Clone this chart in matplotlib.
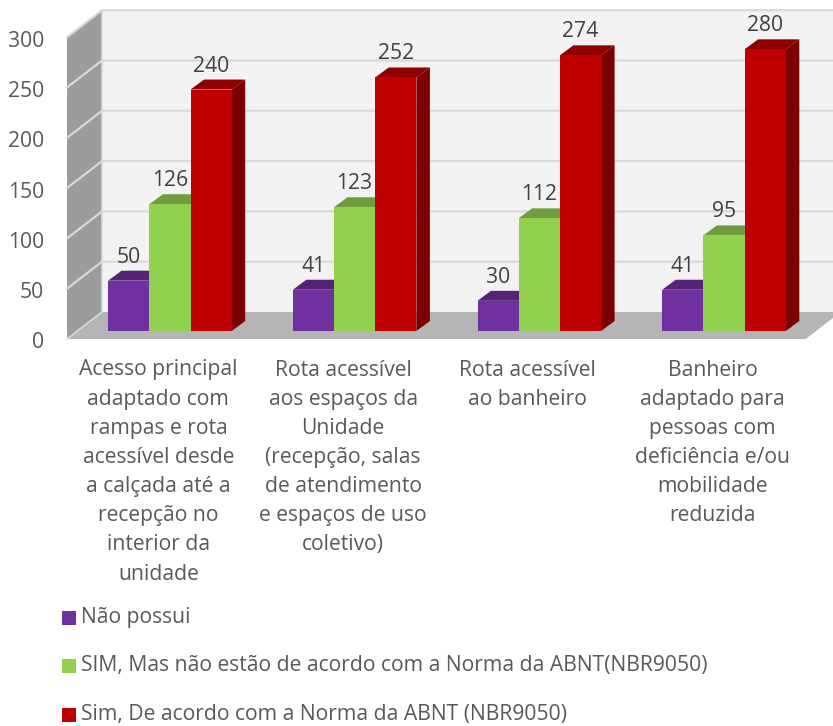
import matplotlib
matplotlib.use("Agg")
import matplotlib.pyplot as plt
from matplotlib.patches import Polygon

plt.rcParams['font.family'] = ['Open Sans', 'DejaVu Sans']

categories = [
    "Acesso principal\nadaptado com\nrampas e rota\nacessível desde\na calçada até a\nrecepção no\ninterior da\nunidade",
    "Rota acessível\naos espaços da\nUnidade\n(recepção, salas\nde atendimento\ne espaços de uso\ncoletivo)",
    "Rota acessível\nao banheiro",
    "Banheiro\nadaptado para\npessoas com\ndeficiência e/ou\nmobilidade\nreduzida",
]
series_names = [
    "Não possui",
    "SIM, Mas não estão de acordo com a Norma da ABNT(NBR9050)",
    "Sim, De acordo com a Norma da ABNT (NBR9050)",
]
nao_possui = [50, 41, 30, 41]
sim_fora_norma = [126, 123, 112, 95]
sim_norma = [240, 252, 274, 280]
y_ticks = [0, 50, 100, 150, 200, 250, 300]

front_colors = ["#7030A0", "#92D050", "#C00000"]
top_colors = ["#562278", "#6F9C3C", "#900000"]
side_colors = ["#4A1D68", "#5F8733", "#7D0000"]

W, H = 833, 726
px_x = 184.7   # pixels per category
px_y = 1.006   # pixels per value unit
x0_px, y0_px = 169.9, 331.0
font_size = 15.2

fig = plt.figure(figsize=(W / 100, H / 100), dpi=100)
ax = fig.add_axes([0, 0, 1, 1])
ax.set_xlim(-x0_px / px_x, (W - x0_px) / px_x)
ax.set_ylim(-(H - y0_px) / px_y, y0_px / px_y)
ax.axis("off")


def X(px):
    return px / px_x


def Y(px):
    return px / px_y


# plot box in data units, measured from the bar baseline
left = -(x0_px - 67) / px_x
right = (805.7 - x0_px) / px_x
floor_front = -Y(8)
wall_dx, wall_dy = X(35), Y(27)
top = floor_front + 300

# back wall, side wall and floor
ax.add_patch(Polygon([(left + wall_dx, floor_front + wall_dy), (right + wall_dx, floor_front + wall_dy),
                      (right + wall_dx, top + wall_dy), (left + wall_dx, top + wall_dy)],
                     facecolor="#F2F2F2", edgecolor="none", zorder=1))
ax.add_patch(Polygon([(left, floor_front), (left + wall_dx, floor_front + wall_dy),
                      (left + wall_dx, top + wall_dy), (left, top)],
                     facecolor="#9C9C9C", edgecolor="none", zorder=1))
ax.add_patch(Polygon([(left, floor_front), (left + wall_dx, floor_front + wall_dy),
                      (right + wall_dx, floor_front + wall_dy), (right, floor_front)],
                     facecolor="#B5B5B5", edgecolor="none", zorder=1))

# gridlines run along both walls
for t in y_ticks:
    y = floor_front + t
    if t > 0:
        ax.plot([left, left + wall_dx, right + wall_dx], [y, y + wall_dy, y + wall_dy],
                color="#D9D9D9", lw=1.6, zorder=2, solid_joinstyle="miter")
    ax.text(X(44 - x0_px), y - Y(4), str(t), ha="right", va="center", fontsize=font_size, color="#595959")
ax.plot([left, left + wall_dx, left + wall_dx], [floor_front, floor_front + wall_dy, top + wall_dy],
        color="#D9D9D9", lw=1.2, zorder=2)

# 3D bars
bar_w = 41.2 / px_x
dx, dy = X(13.5), Y(10)
for s, values in enumerate([nao_possui, sim_fora_norma, sim_norma]):
    for i, v in enumerate(values):
        x = i + (s - 1) * bar_w
        xl, xr = x - bar_w / 2, x + bar_w / 2
        ax.bar(x, v, width=bar_w, color=front_colors[s], zorder=5 + s)
        ax.add_patch(Polygon([(xl, v), (xl + dx, v + dy), (xr + dx, v + dy), (xr, v)],
                             facecolor=top_colors[s], edgecolor="none", zorder=4 + s))
        ax.add_patch(Polygon([(xr, 0), (xr + dx, dy), (xr + dx, v + dy), (xr, v)],
                             facecolor=side_colors[s], edgecolor="none", zorder=4 + s))
        ax.text(x, v + Y(23.5), str(v), ha="center", va="center", fontsize=font_size,
                color="#404040", zorder=20)

# category labels
for i, label in enumerate(categories):
    ax.text(i + X(-11.5), -Y(28.5), label, ha="center", va="top", fontsize=font_size, color="#595959",
            linespacing=1.51)

# legend
legend_y = [617.5, 666.5, 715.5]
for name, color, ypx in zip(series_names, front_colors, legend_y):
    ax.scatter(X(69 - x0_px), (y0_px - ypx) / px_y, marker="s", s=105, color=color, linewidths=0)
    ax.text(X(81 - x0_px), (y0_px - ypx + 0.5) / px_y, name, ha="left", va="center", fontsize=font_size, color="#595959")

fig.savefig("out.png", dpi=100, facecolor="white")
